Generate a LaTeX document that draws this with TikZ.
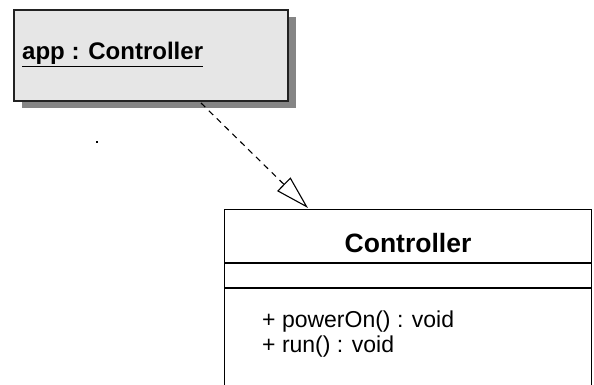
\documentclass[tikz,border=0pt]{standalone}
\usepackage{fontspec}
\setmainfont{Liberation Sans}
\usetikzlibrary{arrows.meta}
\definecolor{objfill}{HTML}{E6E6E6}
\definecolor{shadowgray}{HTML}{858585}
\definecolor{linegray}{HTML}{222222}
\tikzset{
  objbox/.style={draw=linegray, line width=2pt, fill=objfill, minimum width=274pt, minimum height=91pt, inner sep=0pt, anchor=north west},
  shadowbox/.style={fill=shadowgray, minimum width=274pt, minimum height=91pt, inner sep=0pt, anchor=north west},
  clsbox/.style={draw=black, line width=1.4pt, fill=white, minimum width=367pt, minimum height=200pt, inner sep=0pt, anchor=north west},
  dep/.style={draw=black, line width=1.1pt, dash pattern=on 6pt off 5pt, -{Triangle[open, length=34pt, width=19pt, line width=1.1pt]}},
  txt/.style={inner sep=0pt, anchor=base west}
}
\begin{document}
\begin{tikzpicture}[x=1pt, y=-1pt]
\useasboundingbox (0,0) rectangle (594,385);
\clip (0,0) rectangle (594,385);
\fill[white] (0,0) rectangle (594,385);
% object box with shadow
\node[shadowbox] (objshadow) at (22,17) {};
\node[objbox] (obj) at (13,9) {};
\node[txt, font=\bfseries\fontsize{24}{28}\selectfont] (objlabel) at (22,60) {\underline{app : Controller}};
% stray dot
\fill[black] (96,141) rectangle (98,143);
% class box
\node[clsbox] (cls) at (224,209) {};
\draw[line width=1.4pt] (224,263) -- (591,263);
\draw[line width=1.4pt] (224,288) -- (591,288);
\node[inner sep=0pt, anchor=base, font=\bfseries\fontsize{26.5}{30}\selectfont] (clsname) at (408,252) {Controller};
\node[txt, font=\fontsize{23}{25}\selectfont] (m1) at (262,327) {+ powerOn() : void};
\node[txt, font=\fontsize{23}{25}\selectfont] (m2) at (262,352) {+ run() : void};
% dependency
\coordinate (s) at (201,103);
\coordinate (e) at (308,208);
\draw[dep] (s) -- (e);
\end{tikzpicture}
\end{document}
